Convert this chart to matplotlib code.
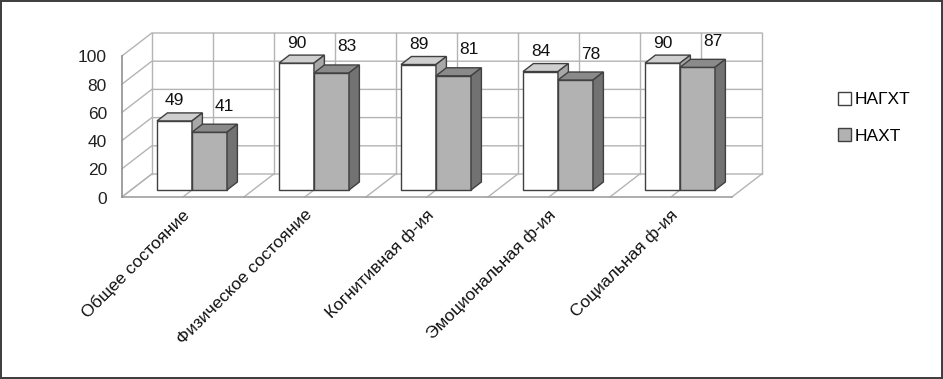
import numpy as np
import matplotlib
matplotlib.use("Agg")
import matplotlib.pyplot as plt
from matplotlib.patches import Polygon, Patch
from matplotlib.transforms import offset_copy

plt.rcParams['font.family'] = ['Liberation Sans', 'DejaVu Sans']

categories = ['Общее состояние', 'Физическое состояние', 'Когнитивная ф-ия',
              'Эмоциональная ф-ия', 'Социальная ф-ия']
nagxt = [49, 90, 89, 84, 90]
naxt = [41, 83, 81, 78, 87]
series_names = ['НАГХТ', 'НАХТ']
yticks = [0, 20, 40, 60, 80, 100]

FS = 12.5
W, H = 943, 379
fig = plt.figure(figsize=(W / 100, H / 100), dpi=100)
fig.patch.set_edgecolor('#404040')
fig.patch.set_linewidth(1.5)

# bar plane of the 3d box, in pixels
PX_X = 122.0   # px per category
PX_Y = 1.41    # px per value unit
x0_px, y0_px = 131.0, 190.0
ax = fig.add_axes([x0_px / W, (H - y0_px) / H, 5 * PX_X / W, 100 * PX_Y / H])
ax.set_xlim(-0.5, 4.5)
ax.set_ylim(0, 100)
ax.axis('off')

K = 1.3  # horizontal shift per px of depth


def sh(x, y, d):
    # move a point d pixels "into" the chart
    return x + d * K / PX_X, y + d / PX_Y


FRONT, BACK = -7, 16
grid_c = '#b4b4b4'

# walls and floor
for v in yticks:
    pts = [sh(-0.5, v, FRONT), sh(-0.5, v, BACK), sh(4.5, v, BACK)]
    ax.plot([p[0] for p in pts], [p[1] for p in pts], color=grid_c, lw=1, clip_on=False, zorder=1)
for k in range(11):
    xv = -0.5 + 0.5 * k
    a, b = sh(xv, 0, BACK), sh(xv, 100, BACK)
    ax.plot([a[0], b[0]], [a[1], b[1]], color=grid_c, lw=1, clip_on=False, zorder=1)
    a, b = sh(xv, 0, FRONT), sh(xv, 0, BACK)
    ax.plot([a[0], b[0]], [a[1], b[1]], color=grid_c, lw=1, clip_on=False, zorder=1)
a, b = sh(-0.5, 0, FRONT), sh(4.5, 0, FRONT)
ax.plot([a[0], b[0]], [a[1], b[1]], color='#a0a0a0', lw=1.2, clip_on=False, zorder=1)
a, b = sh(-0.5, 0, FRONT), sh(-0.5, 100, FRONT)
ax.plot([a[0], b[0]], [a[1], b[1]], color='#909090', lw=1.2, clip_on=False, zorder=1)

# y tick labels on the front axis
tlab = offset_copy(ax.transData, fig=fig, x=-15, y=-2, units='dots')
for v in yticks:
    p = sh(-0.5, v, FRONT)
    ax.text(p[0], p[1], str(v), ha='right', va='center', fontsize=FS,
            transform=tlab, color='#222222')

# bars
BW = 35 / PX_X
DEPTH = 8
styles = [
    dict(front='#ffffff', top='#cfcfcf', side='#a8a8a8'),
    dict(front='#b2b2b2', top='#8a8a8a', side='#727272'),
]
edge = '#404040'
lab1 = offset_copy(ax.transData, fig=fig, x=0, y=20, units='dots')
lab2 = offset_copy(ax.transData, fig=fig, x=15, y=26, units='dots')
xs = np.arange(len(categories))
for i in xs:
    for s, vals in enumerate([nagxt, naxt]):
        v = vals[i]
        left = i - BW if s == 0 else i
        right = left + BW
        st = styles[s]
        ax.bar(left, v, width=BW, align='edge', color=st['front'], edgecolor=edge,
               linewidth=1, zorder=3 + s, clip_on=False)
        top = [(left, v), (right, v), sh(right, v, DEPTH), sh(left, v, DEPTH)]
        ax.add_patch(Polygon(top, closed=True, facecolor=st['top'], edgecolor=edge,
                             lw=1, zorder=3 + s, clip_on=False))
        side = [(right, 0), (right, v), sh(right, v, DEPTH), sh(right, 0, DEPTH)]
        ax.add_patch(Polygon(side, closed=True, facecolor=st['side'], edgecolor=edge,
                             lw=1, zorder=3 + s, clip_on=False))
        # value label
        ax.text(left + BW / 2, v, str(v), ha='center', va='center', fontsize=FS,
                color='#111111', zorder=6, transform=lab1 if s == 0 else lab2)

# category labels
clab = offset_copy(ax.transData, fig=fig, x=-1, y=-10, units='dots')
for i, name in enumerate(categories):
    p = sh(i, 0, FRONT)
    ax.text(p[0], p[1], name, rotation=45, rotation_mode='anchor', ha='right', va='top',
            fontsize=FS, transform=clab, color='#111111')

handles = [Patch(facecolor=styles[0]['front'], edgecolor=edge),
           Patch(facecolor=styles[1]['front'], edgecolor=edge)]
fig.legend(handles, series_names, loc='upper left', bbox_to_anchor=(831 / W, 1 - 85 / H),
           frameon=False, fontsize=FS, handlelength=0.75, handleheight=0.75,
           handletextpad=0.2, labelspacing=1.2, borderaxespad=0)

fig.savefig('out.png', dpi=100)
